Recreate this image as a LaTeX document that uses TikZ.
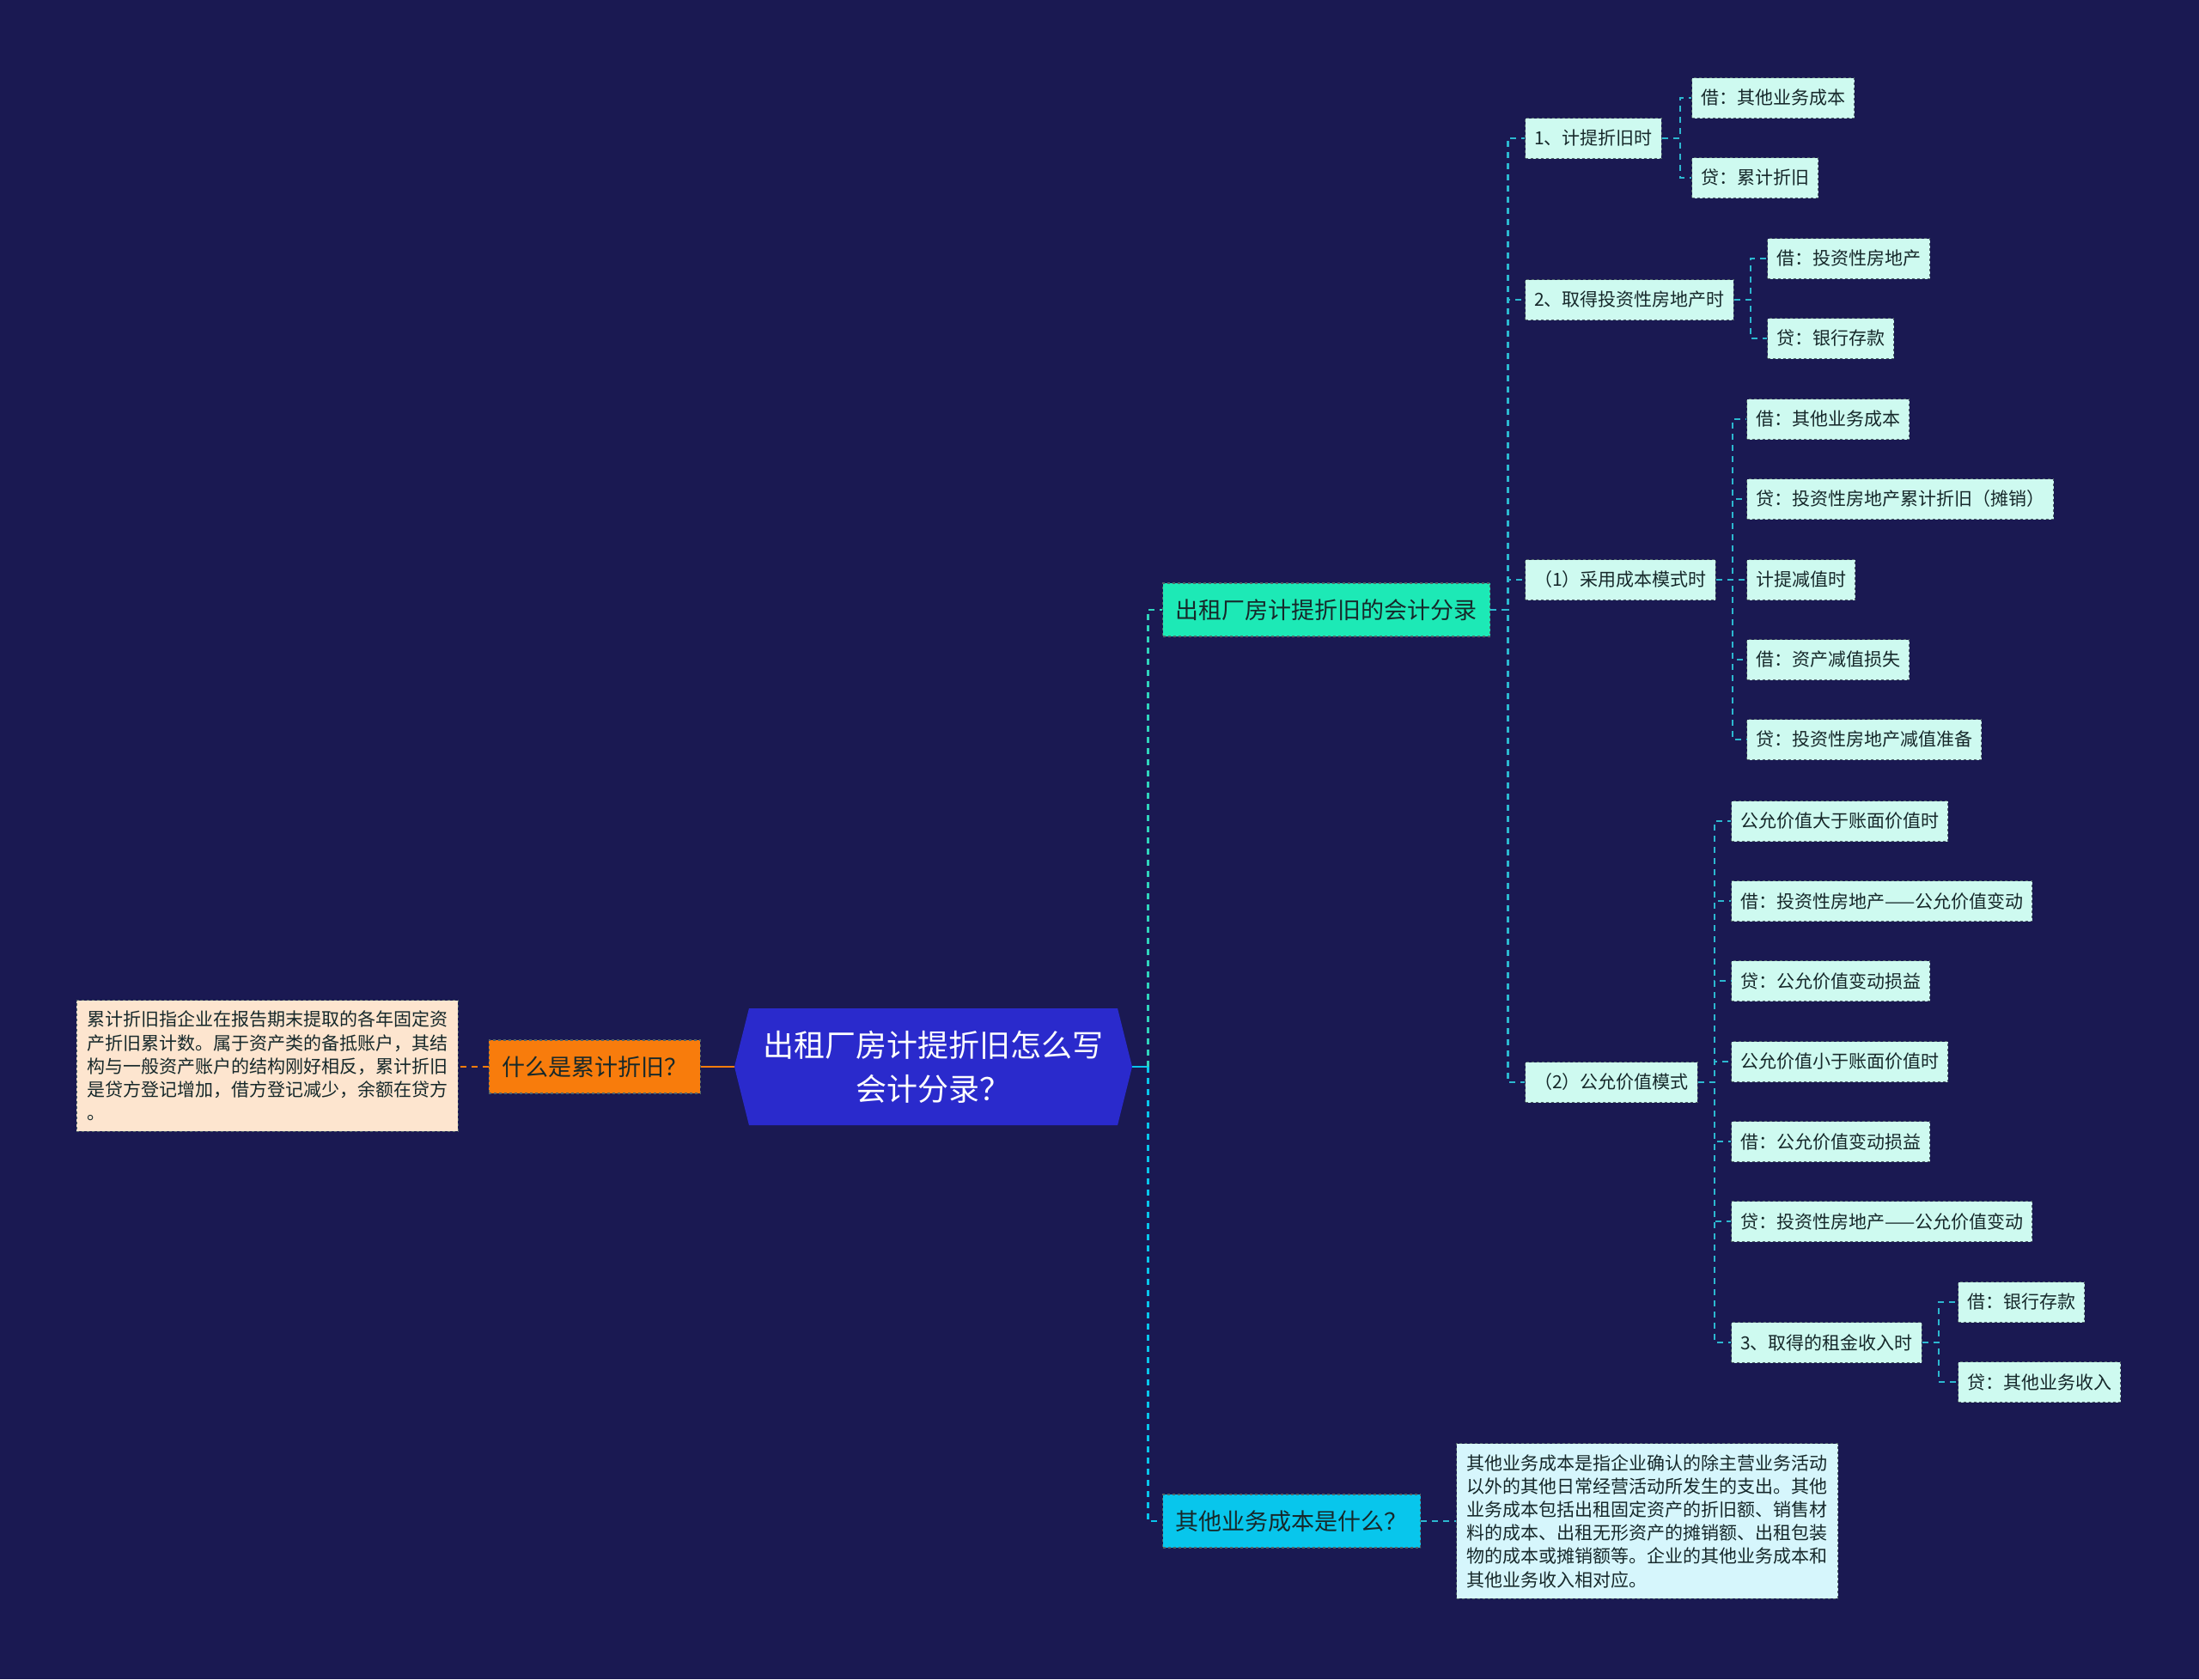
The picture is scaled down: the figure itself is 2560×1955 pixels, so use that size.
\documentclass[tikz,border=0pt]{standalone}
\usepackage{fontspec}
\setmainfont{Noto Sans CJK SC}
\usetikzlibrary{positioning,shapes.symbols}
\definecolor{bgnavy}{RGB}{26,25,82}
\definecolor{rootblue}{RGB}{42,42,204}
\definecolor{mint}{RGB}{29,233,182}
\definecolor{skyc}{RGB}{8,198,236}
\definecolor{orng}{RGB}{248,124,12}
\definecolor{leafbg}{RGB}{206,250,240}
\definecolor{peach}{RGB}{253,229,207}
\definecolor{icebg}{RGB}{214,246,252}
\definecolor{linkc}{RGB}{44,184,208}
\definecolor{tealc}{RGB}{48,212,188}
\definecolor{inkc}{RGB}{22,40,42}
\definecolor{edgec}{RGB}{80,100,104}
\tikzset{
  rootbox/.style={shape=signal,signal to=west and east,signal pointer angle=152,fill=rootblue,text=white,align=center,font=\fontsize{36}{51}\selectfont,minimum width=463pt,minimum height=136pt,inner sep=0pt},
  topic/.style={draw=edgec,dashed,line width=1.2pt,text=inkc,font=\fontsize{27}{32}\selectfont,minimum height=62pt,inner xsep=15pt,anchor=west},
  leaf/.style={draw=edgec,dashed,line width=1.2pt,fill=leafbg,text=inkc,font=\fontsize{21}{25}\selectfont,minimum height=47pt,inner xsep=10.5pt,anchor=west},
  note/.style={draw=edgec,dashed,line width=1.2pt,text=inkc,font=\fontsize{21}{27.2}\selectfont,text width=420pt,inner xsep=12pt,inner ysep=12.5pt,align=left},
  link/.style={draw=linkc,line width=2.6pt,dash pattern=on 7pt off 6pt},
  stub/.style={line width=2.6pt}
}
\begin{document}
\begin{tikzpicture}[x=1pt,y=-1pt]
\fill[bgnavy] (0,0) rectangle (2560,1955);
\useasboundingbox (0,0) rectangle (2560,1955);

\node[rootbox] (root) at (1086.5,1242) {出租厂房计提折旧怎么写\\会计分录？};

% left side
\node[topic,fill=orng,anchor=east] (whatq) at (816,1242) {什么是累计折旧？};
\node[note,fill=peach,anchor=east] (lnote) at (534,1241) {累计折旧指企业在报告期末提取的各年固定资\\产折旧累计数。属于资产类的备抵账户，其结\\构与一般资产账户的结构刚好相反，累计折旧\\是贷方登记增加，借方登记减少，余额在贷方\\。};
\draw[stub,orng] (root.west) -- (whatq.east);
\draw[link,draw=orng] (whatq.west) -- (whatq.west -| lnote.east);

% right side
\node[topic,fill=mint] (acct) at (1353,710) {出租厂房计提折旧的会计分录};
\node[topic,fill=skyc] (other) at (1353,1771) {其他业务成本是什么？};
\node[note,fill=icebg,right=41pt of other] (rnote) {其他业务成本是指企业确认的除主营业务活动\\以外的其他日常经营活动所发生的支出。其他\\业务成本包括出租固定资产的折旧额、销售材\\料的成本、出租无形资产的摊销额、出租包装\\物的成本或摊销额等。企业的其他业务成本和\\其他业务收入相对应。};
\draw[stub,skyc] (root.east) -- ++(18,0) coordinate (rs);
\draw[link,draw=tealc] (rs) |- (acct.west);
\draw[link,draw=skyc] (rs) |- (other.west);
\draw[link] (other.east) -- (rnote.west);

\node[leaf] (s1) at (1775,161) {1、计提折旧时};
\node[leaf] (s2) at (1775,349) {2、取得投资性房地产时};
\node[leaf] (cm) at (1775,675) {（1）采用成本模式时};
\node[leaf] (fv) at (1775,1260) {（2）公允价值模式};
\foreach \k in {s1,s2,cm,fv} \draw[link] (acct.east) -- ++(20,0) |- (\k.west);

\node[leaf] (s1a) at (1969,114) {借：其他业务成本};
\node[leaf] (s1b) at (1969,207) {贷：累计折旧};
\node[leaf] (s2a) at (2057,301) {借：投资性房地产};
\node[leaf] (s2b) at (2057,394) {贷：银行存款};
\draw[link] (s1.east) -- ++(21,0) |- (s1a.west);
\draw[link] (s1.east) -- ++(21,0) |- (s1b.west);
\draw[link] (s2.east) -- ++(19,0) |- (s2a.west);
\draw[link] (s2.east) -- ++(19,0) |- (s2b.west);

\foreach \i/\yy/\t in {1/488/借：其他业务成本,2/581/贷：投资性房地产累计折旧（摊销）,3/675/计提减值时,4/768/借：资产减值损失,5/861/贷：投资性房地产减值准备}{
  \node[leaf] (cm\i) at (2033,\yy) {\t};
  \draw[link] (cm.east) -- ++(19,0) |- (cm\i.west);
}

\foreach \i/\yy/\t in {1/956/公允价值大于账面价值时,2/1049/借：投资性房地产——公允价值变动,3/1142/贷：公允价值变动损益,4/1236/公允价值小于账面价值时,5/1329/借：公允价值变动损益,6/1422/贷：投资性房地产——公允价值变动,7/1563/3、取得的租金收入时}{
  \node[leaf] (fv\i) at (2015,\yy) {\t};
  \draw[link] (fv.east) -- ++(19,0) |- (fv\i.west);
}

\node[leaf] (renta) at (2279,1516) {借：银行存款};
\node[leaf] (rentb) at (2279,1609) {贷：其他业务收入};
\draw[link] (fv7.east) -- ++(19,0) |- (renta.west);
\draw[link] (fv7.east) -- ++(19,0) |- (rentb.west);
\end{tikzpicture}
\end{document}
